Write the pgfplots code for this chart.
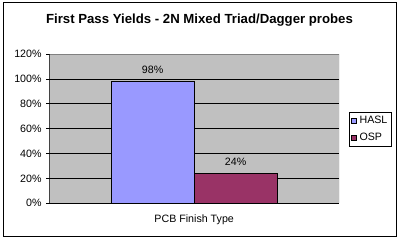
\documentclass[border=0pt]{standalone}
\usepackage{pgfplots}
\pgfplotsset{compat=1.18}
\usepackage{fontspec}
\setmainfont{Liberation Sans}
\definecolor{plotbg}{HTML}{C0C0C0}
\definecolor{hasl}{HTML}{9999FF}
\definecolor{osp}{HTML}{993366}
\definecolor{bordergray}{HTML}{808080}
\begin{document}
\begin{tikzpicture}[x=0.75pt,y=0.75pt]
\useasboundingbox (0,0) rectangle (400,241);
\fill[white] (0,0) rectangle (400,241);
\draw[black,line width=0.75pt] (3,238) rectangle (396,4);
\node[font=\fontsize{9.9}{12}\selectfont\bfseries] at (199.5,220.5) {First Pass Yields - 2N Mixed Triad/Dagger probes};
\begin{axis}[
  at={(36.975pt,28.275pt)}, anchor=south west,
  scale only axis,
  width=217.3pt, height=111.75pt,
  /pgf/number format/assume math mode=true,
  font=\fontsize{8}{9.6}\selectfont,
  ybar=0pt, bar width=62.25pt,
  xmin=-1, xmax=1, ymin=0, ymax=120,
  xtick={0}, xticklabels={PCB Finish Type},
  x tick style={draw=none},
  xticklabel style={yshift=-3pt},
  ytick={0,20,...,120},
  yticklabel={\pgfmathprintnumber{\tick}\%},
  ytick pos=left, tick align=outside,
  major tick length=2.25pt,
  y tick style={black, line width=0.75pt},
  ymajorgrids, grid style={black, line width=0.75pt},
  axis line style={draw=none},
  axis background/.style={fill=plotbg},
  nodes near coords={\pgfmathprintnumber{\pgfplotspointmeta}\%},
  every node near coord/.append style={anchor=center, yshift=8.5pt, font=\fontsize{8}{9.6}\selectfont, black},
  legend style={at={(1.0355,0.6148)}, anchor=north west, draw=black, fill=white,
    line width=0.75pt, font=\fontsize{8}{9.6}\selectfont, inner xsep=1pt, inner ysep=1pt,
    row sep=1.5pt, legend cell align=left},
  legend image code/.code={\draw[#1, draw=black, line width=0.5pt] (0pt,-1.9pt) rectangle (3.8pt,1.9pt);},
]
\addplot[fill=hasl, draw=black, line width=0.75pt] coordinates {(0,98)};
\addplot[fill=osp, draw=black, line width=0.75pt] coordinates {(0,24)};
\legend{HASL,OSP}
\draw[bordergray, line width=0.75pt] (rel axis cs:0,1) -- (rel axis cs:1,1) -- (rel axis cs:1,0);
\draw[black, line width=0.75pt] (rel axis cs:0,1) -- (rel axis cs:0,0) -- (rel axis cs:1,0);
\end{axis}
\end{tikzpicture}
\end{document}
